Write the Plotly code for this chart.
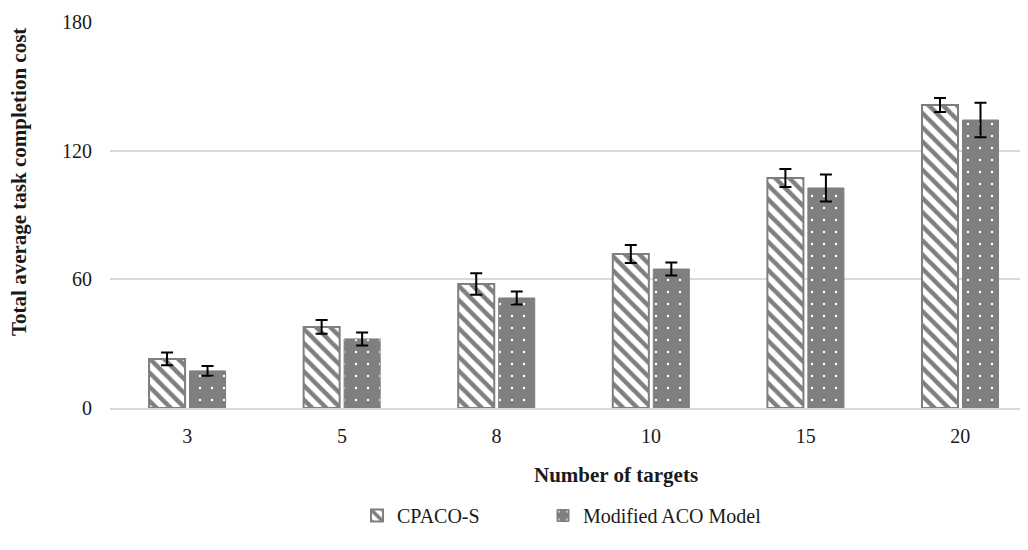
import plotly.graph_objects as go

categories = ["3", "5", "8", "10", "15", "20"]
cpaco_s = [22.9, 37.8, 57.8, 71.8, 107.3, 141.3]
cpaco_s_err = [3.0, 3.2, 5.0, 4.2, 4.2, 3.3]
modified_aco = [17.3, 32.2, 51.3, 64.8, 102.6, 134.3]
modified_aco_err = [2.3, 3.0, 3.0, 3.0, 6.3, 8.0]
y_ticks = [0, 60, 120, 180]

FONT = "Liberation Serif, Times New Roman, serif"
GRAY = "#7f7f7f"
TXT = "#1a1a1a"

PLOT_LEFT = 110   # page px of plot left edge
PLOT_BOTTOM = 408 # page px of y=0
PLOT_W = 926
PLOT_H = 386

fig = go.Figure()
fig.add_trace(go.Bar(
    name="CPACO-S", x=categories, y=cpaco_s, legend="legend",
    error_y=dict(type="data", array=cpaco_s_err, color="black", thickness=2, width=6),
    marker=dict(color="white",
                line=dict(color=GRAY, width=2),
                pattern=dict(shape="\\", fgcolor=GRAY, bgcolor="white",
                             size=10, solidity=0.45, fillmode="replace")),
))
fig.add_trace(go.Bar(
    name="Modified ACO Model", x=categories, y=modified_aco, legend="legend2",
    error_y=dict(type="data", array=modified_aco_err, color="black", thickness=2, width=6),
    marker=dict(color=GRAY,
                line=dict(color=GRAY, width=1),
                pattern=dict(shape=".", fgcolor="white", bgcolor=GRAY,
                             size=12, solidity=0.035, fillmode="replace")),
))

legend_common = dict(orientation="h", xanchor="left",
                     y=-(496 - PLOT_BOTTOM) / PLOT_H, yanchor="top",
                     font=dict(size=20, family=FONT, color=TXT),
                     itemwidth=30, bgcolor="rgba(0,0,0,0)")

fig.update_layout(
    width=1028, height=550,
    paper_bgcolor="white", plot_bgcolor="white",
    margin=dict(l=102, r=0, t=14, b=150),
    barmode="group", bargap=0.476, bargroupgap=0.11,
    font=dict(family=FONT, size=20, color=TXT),
    xaxis=dict(type="category", range=[-0.5, 5.49], showgrid=False,
               showline=True, linecolor="#d9d9d9", linewidth=1.5,
               ticks="", tickfont=dict(size=20, family=FONT, color=TXT),
               ticklabelstandoff=9),
    yaxis=dict(range=[0, 180], tickvals=y_ticks, showgrid=True,
               gridcolor="#d9d9d9", gridwidth=1.5, zeroline=False,
               showline=False, ticks="", ticklabelstandoff=17,
               tickfont=dict(size=20, family=FONT, color=TXT)),
    showlegend=True,
    legend=dict(x=(357 - PLOT_LEFT) / PLOT_W, **legend_common),
    legend2=dict(x=(543 - PLOT_LEFT) / PLOT_W, **legend_common),
    annotations=[
        dict(text="<b>Number of targets</b>", xref="paper", yref="paper",
             x=(616 - PLOT_LEFT) / PLOT_W, y=-(475 - PLOT_BOTTOM) / PLOT_H,
             xanchor="center", yanchor="middle",
             showarrow=False, font=dict(size=21, family=FONT, color=TXT)),
        dict(text="<b>Total average task completion cost</b>", xref="paper", yref="paper",
             x=-(PLOT_LEFT - 19) / PLOT_W, y=(PLOT_BOTTOM - 182) / PLOT_H,
             xanchor="center", yanchor="middle",
             textangle=-90, showarrow=False,
             font=dict(size=21, family=FONT, color=TXT)),
    ],
)

fig.write_html("out.html")
